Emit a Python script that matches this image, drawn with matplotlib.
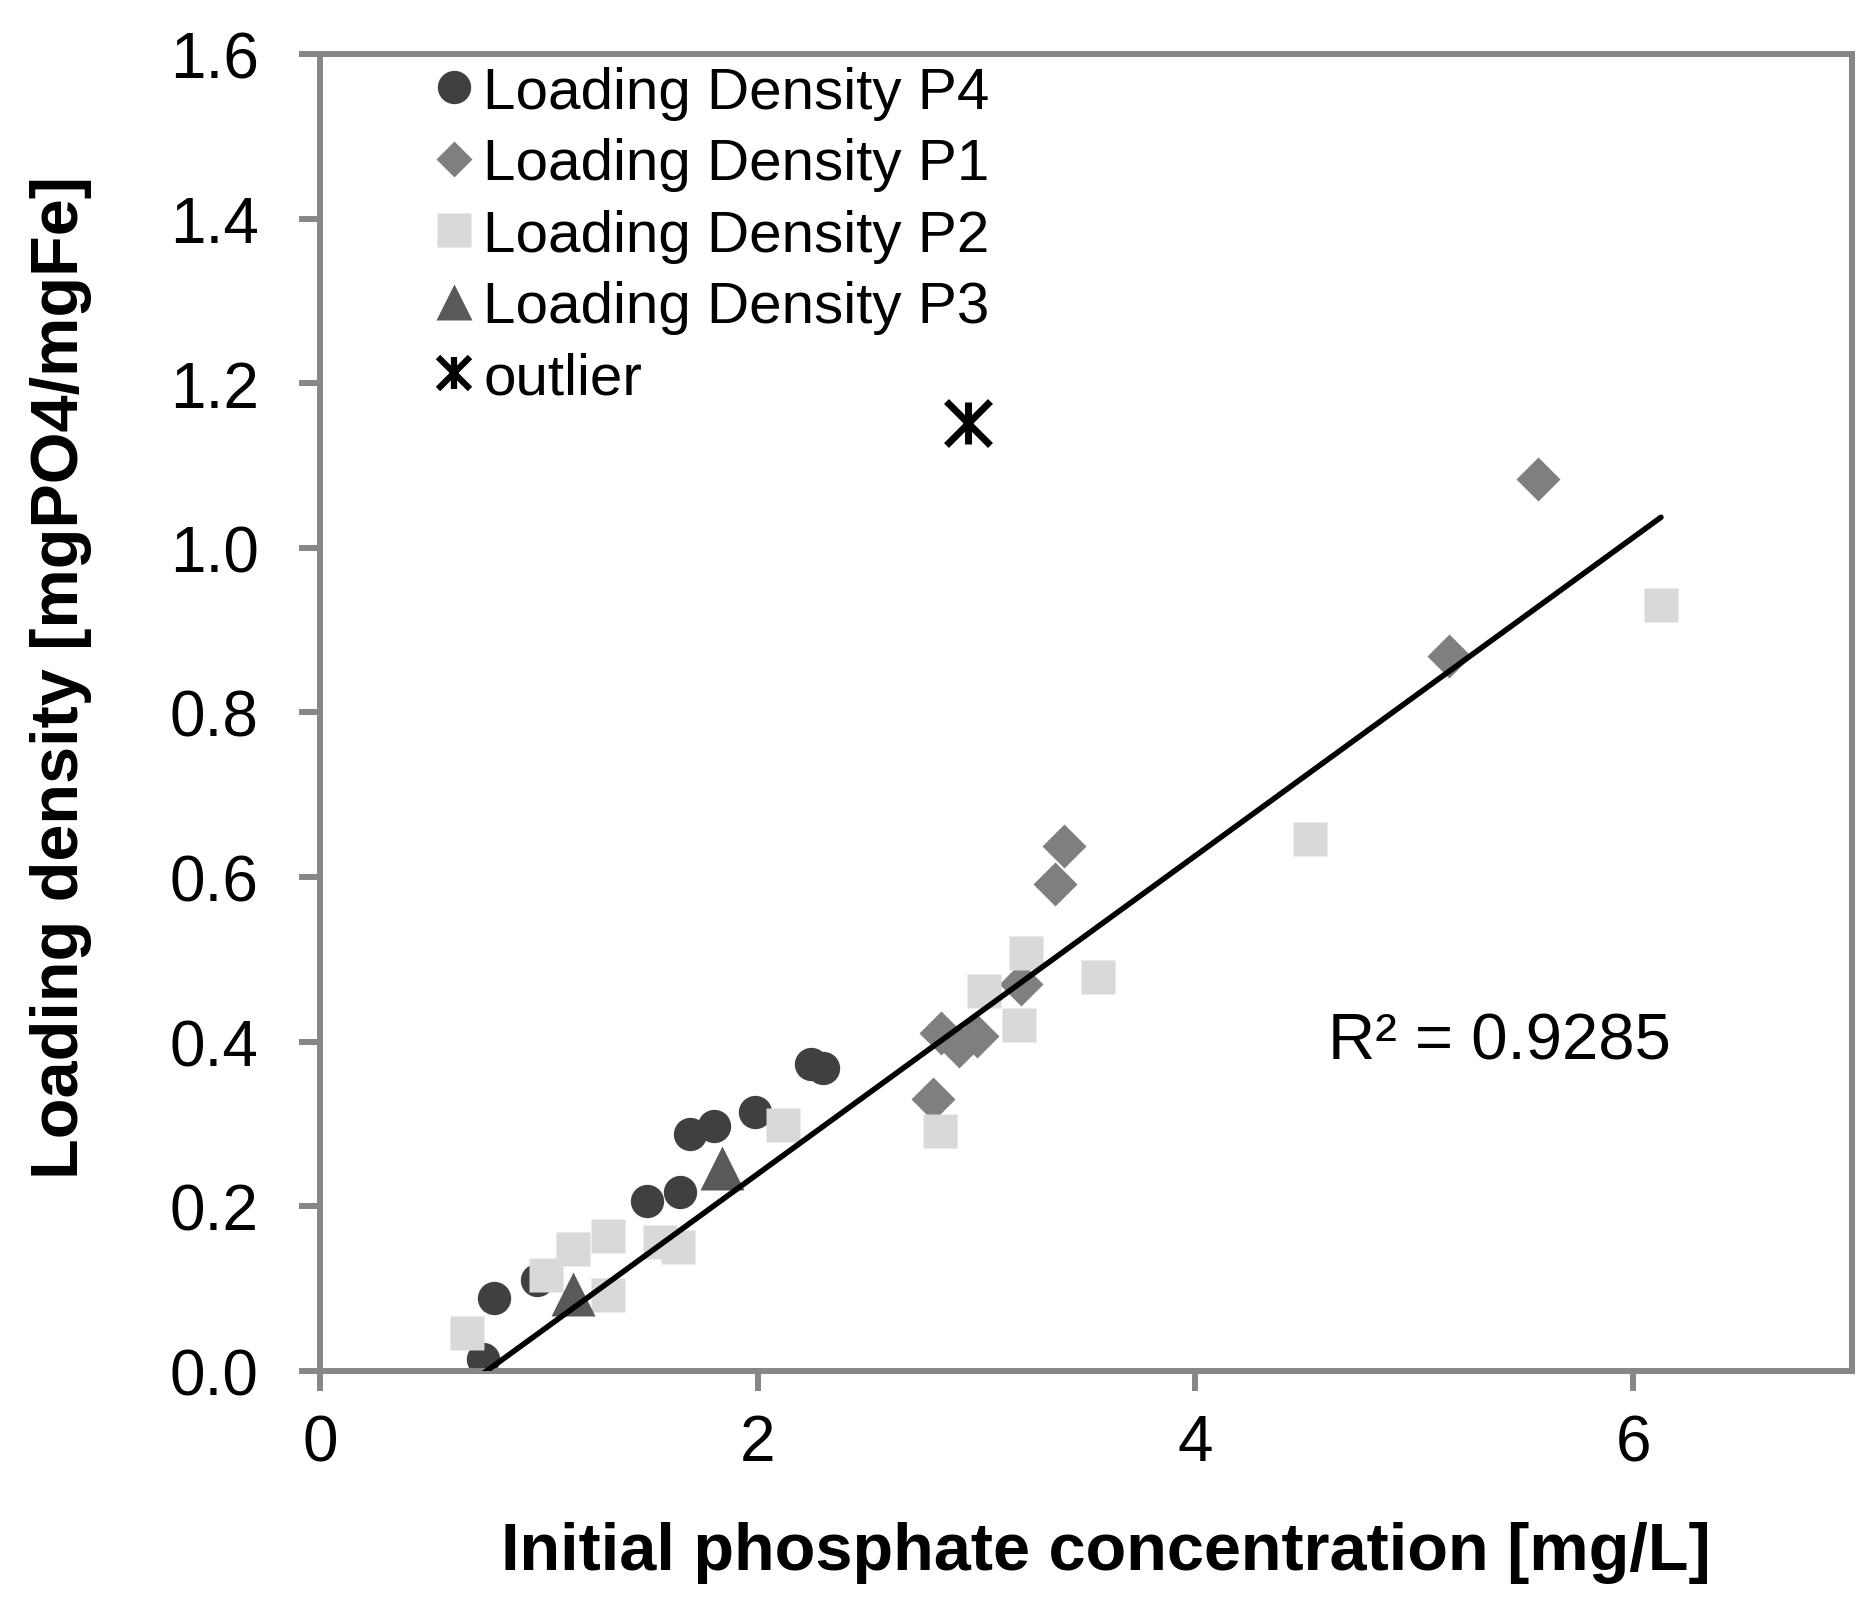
import matplotlib
matplotlib.use("Agg")
import matplotlib.pyplot as plt
from matplotlib.lines import Line2D
import numpy as np

plt.rcParams['font.family'] = ['Liberation Sans', 'DejaVu Sans']

# Loading Density P4 (circles)
p4_x = [0.744, 0.794, 0.994, 1.494, 1.643, 1.692, 1.80, 1.986, 2.245, 2.30]
p4_y = [0.015, 0.089, 0.110, 0.206, 0.217, 0.288, 0.298, 0.315, 0.373, 0.368]

# Loading Density P1 (diamonds)
p1_x = [2.80, 2.838, 2.919, 3.0, 3.204, 3.358, 3.399, 5.16, 5.566]
p1_y = [0.330, 0.411, 0.395, 0.407, 0.470, 0.591, 0.638, 0.868, 1.084]

# Loading Density P2 (squares)
p2_x = [0.671, 1.032, 1.157, 1.315, 1.315, 1.555, 1.635, 2.114, 2.835, 3.036,
        3.196, 3.228, 3.557, 4.522, 6.127]
p2_y = [0.046, 0.116, 0.148, 0.164, 0.092, 0.157, 0.151, 0.299, 0.291, 0.461,
        0.420, 0.508, 0.479, 0.646, 0.931]

# Loading Density P3 (triangles)
p3_x = [1.157, 1.835]
p3_y = [0.093, 0.247]

# outlier
out_x = [2.96]
out_y = [1.152]

# trendline (slope, intercept)
trend_k = 0.1933
trend_b = -0.1473
r2_label = "R\u00b2 = 0.9285"

gray = '#878787'
c_p4, c_p1, c_p2, c_p3 = '#404040', '#7f7f7f', '#d9d9d9', '#595959'

fig = plt.figure(figsize=(18.73, 16.15), dpi=100)
ax = fig.add_axes([0.1708, 0.1505, 0.818, 0.8155])

ax.plot(p4_x, p4_y, 'o', ms=24, color=c_p4, mec='none')
ax.plot(p1_x, p1_y, 'D', ms=22, color=c_p1, mec='none')
ax.plot(p2_x, p2_y, 's', ms=24.5, color=c_p2, mec='none')
ax.plot(p3_x, p3_y, '^', ms=31, color=c_p3, mec='none')
ax.plot(out_x, out_y, 'x', ms=31, mew=5, color='black')
ax.plot(out_x, out_y, '|', ms=30, mew=5, color='black')

# trendline over the x range of the data, clipped at y=0 by the axes
all_x = np.array(p4_x + p1_x + p2_x + p3_x)
xs = np.array([all_x.min(), all_x.max()])
ax.plot(xs, trend_k * xs + trend_b, color='black', lw=4.0, zorder=5,
        solid_capstyle='round')

ax.text(4.604, 0.380, r2_label, fontsize=47, ha='left', va='baseline')

ax.set_xlim(0, 7)
ax.set_ylim(0, 1.6)
ax.set_xticks([0, 2, 4, 6])
ax.set_yticks(np.arange(0, 1.61, 0.2))
ax.set_yticklabels(['%.1f' % v for v in np.arange(0, 1.61, 0.2)])

for s in ax.spines.values():
    s.set_color(gray)
    s.set_linewidth(4.3)
ax.tick_params(axis='both', which='major', direction='out', color=gray,
               width=4.3, labelsize=46)
ax.tick_params(axis='x', length=14.5, pad=16)
ax.tick_params(axis='y', length=15, pad=29)

ax.set_xlabel('Initial phosphate concentration [mg/L]', fontsize=48, fontweight='bold')
ax.set_ylabel('Loading density [mgPO4/mgFe]', fontsize=48, fontweight='bold')
ax.xaxis.set_label_coords(0.513, -0.114)
ax.yaxis.set_label_coords(-0.149, 0.527)

# legend markers are a bit smaller than the plotted ones
h = [Line2D([], [], ls='none', marker='o', ms=24, color=c_p4, mec='none'),
     Line2D([], [], ls='none', marker='D', ms=18, color=c_p1, mec='none'),
     Line2D([], [], ls='none', marker='s', ms=24, color=c_p2, mec='none'),
     Line2D([], [], ls='none', marker='^', ms=26, color=c_p3, mec='none'),
     (Line2D([], [], ls='none', marker='x', ms=23, mew=4.5, color='black'),
      Line2D([], [], ls='none', marker='|', ms=23, mew=4.5, color='black'))]
l = ['Loading Density P4', 'Loading Density P1', 'Loading Density P2',
     'Loading Density P3', 'outlier']
ax.legend(h, l, loc='upper left', bbox_to_anchor=(0.076, 0.991), frameon=False,
          fontsize=42, handlelength=0.6, handletextpad=0.2, labelspacing=0.3,
          borderpad=0, borderaxespad=0)

fig.savefig('out.png', dpi=100)
